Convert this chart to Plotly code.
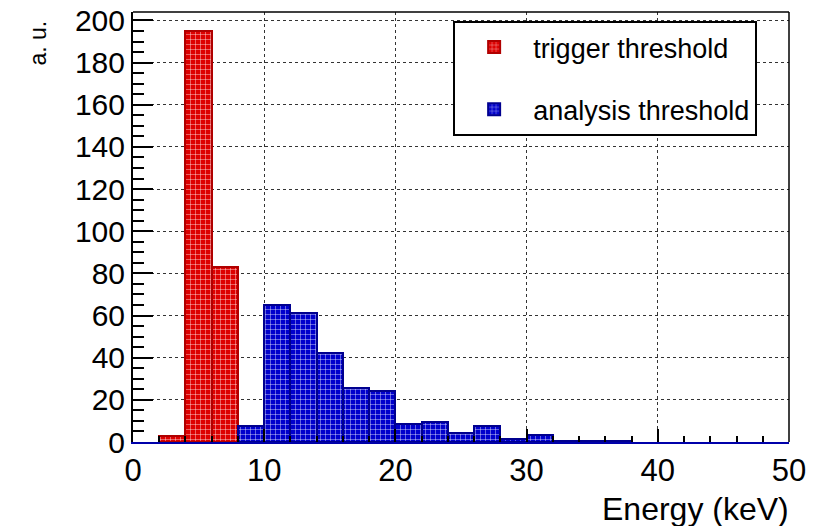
import plotly.graph_objects as go

# Histogram data (bin width 2 keV)
bin_width = 2.0
red_left_edges = [2, 4, 6]
red_counts = [3, 195, 83]
blue_left_edges = [8, 10, 12, 14, 16, 18, 20, 22, 24, 26, 28, 30, 32, 34, 36]
blue_counts = [7.5, 65, 61, 42, 25.5, 24, 8.5, 9.5, 4.5, 7.5, 1.5, 3.5, 0.7, 0.7, 0.7]
x_ticks = [0, 10, 20, 30, 40, 50]
y_ticks = [0, 20, 40, 60, 80, 100, 120, 140, 160, 180, 200]

FONT = "Arial, Liberation Sans, sans-serif"

fig = go.Figure()
fig.add_trace(go.Bar(
    x=[e + bin_width / 2 for e in red_left_edges], y=red_counts, width=bin_width,
    name="trigger threshold", legendgroup="a",
    marker=dict(color="#dd0000",
                line=dict(color="#b00000", width=2),
                pattern=dict(shape="+", fgcolor="white", bgcolor="#dd0000",
                             size=5, solidity=0.15, fillmode="replace")),
))
fig.add_trace(go.Bar(
    x=[e + bin_width / 2 for e in blue_left_edges], y=blue_counts, width=bin_width,
    name="analysis threshold", legendgroup="b",
    marker=dict(color="#0000cc",
                line=dict(color="#00008f", width=2),
                pattern=dict(shape="+", fgcolor="white", bgcolor="#0000cc",
                             size=5, solidity=0.15, fillmode="replace")),
))

fig.update_layout(
    template="none",
    width=824, height=526,
    margin=dict(l=133, r=35, t=12, b=84),
    paper_bgcolor="white", plot_bgcolor="white",
    bargap=0, barmode="overlay",
    font=dict(family=FONT, color="black"),
    showlegend=True,
    legend=dict(x=0.488, y=0.979, xanchor="left", yanchor="top",
                bordercolor="black", borderwidth=2, bgcolor="white",
                font=dict(size=27, family=FONT), itemwidth=68,
                tracegroupgap=24, traceorder="grouped"),
    xaxis=dict(range=[0, 50], tickvals=x_ticks, ticktext=[str(v) for v in x_ticks],
               ticks="inside", ticklen=13, tickwidth=1.5, tickcolor="black",
               minor=dict(dtick=2, ticks="inside", ticklen=6, tickcolor="black", showgrid=False),
               showgrid=True, gridcolor="#333333", griddash="dot", gridwidth=1,
               showline=True, linecolor="#0000aa", linewidth=2, mirror=False,
               tickfont=dict(size=31), zeroline=False, automargin=False),
    yaxis=dict(range=[0, 204], tickvals=y_ticks, ticktext=[str(v) for v in y_ticks],
               ticks="inside", ticklen=20, tickwidth=2, tickcolor="black",
               minor=dict(dtick=5, ticks="inside", ticklen=11, tickwidth=2,
                          tickcolor="black", showgrid=False),
               showgrid=True, gridcolor="#333333", griddash="dot", gridwidth=1,
               showline=True, linecolor="black", linewidth=2, mirror=False,
               tickfont=dict(size=30), zeroline=False, automargin=False),
    shapes=[
        dict(type="line", xref="paper", yref="paper", x0=0, x1=1, y0=1, y1=1,
             line=dict(color="black", width=1.5)),
        dict(type="line", xref="paper", yref="paper", x0=1, x1=1, y0=0, y1=1,
             line=dict(color="black", width=1.5)),
    ],
    annotations=[
        dict(text="Energy (keV)", xref="paper", yref="paper", x=1.0, y=0,
             xanchor="right", yanchor="top", yshift=-47, xshift=2, showarrow=False,
             font=dict(size=32, family=FONT)),
        dict(text="a. u.", xref="paper", yref="paper", x=0, y=1.0,
             xanchor="center", yanchor="top", xshift=-96, yshift=-7,
             textangle=-90, showarrow=False, font=dict(size=23, family=FONT)),
    ],
)

fig.write_html("out.html")
